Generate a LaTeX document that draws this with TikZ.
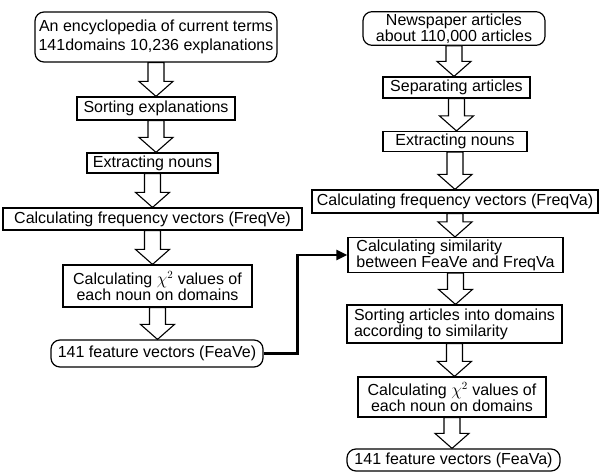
\documentclass[tikz,border=0pt]{standalone}
\usepackage{fontspec}
\setmainfont{Liberation Sans}
\usetikzlibrary{calc,arrows.meta}

\tikzset{
	proc/.style={draw,line width=1.2pt,inner sep=2pt,font=\fontsize{16}{16}\selectfont},
	term/.style={proc,rounded corners=9pt},
	hollow/.style={draw,fill=white,line width=1.1pt,line join=miter},
	link/.style={line width=2.6pt,-{Triangle[length=11pt,width=10pt]}},
}
% hollow block arrow from one box down to the next
\newcommand{\Flow}[2]{%
	\draw[hollow] let \p1=(#1.south), \p2=(#2.north) in
		(\x1-8pt,\y1) -- (\x1+8pt,\y1) -- (\x1+8pt,\y2+15pt) -- (\x1+17pt,\y2+15pt)
		-- (\x1,\y2) -- (\x1-17pt,\y2+15pt) -- (\x1-8pt,\y2+15pt) -- cycle;}

\begin{document}
\begin{tikzpicture}[x=1pt,y=-1pt]
		\useasboundingbox (0,0) rectangle (600,472);
		
		% Set up the boxes (encyclopedia side)
		\node[term,minimum width=242pt,minimum height=50pt,align=center,font=\fontsize{16}{19}\selectfont] (ency) at (156,37) {An encyclopedia of current terms\\141domains 10,236 explanations};
		\node[proc,minimum width=158pt,minimum height=23pt] (sortexp) at (156,108.5) {Sorting explanations};
		\node[proc,minimum width=131pt,minimum height=20pt] (nounsL) at (152.5,163) {Extracting nouns};
		\node[proc,minimum width=299pt,minimum height=22pt] (freqve) at (152.5,219) {Calculating frequency vectors (FreqVe)};
		\node[proc,minimum width=189pt,minimum height=42pt,align=center] (chiL) at (157.5,286) {Calculating $\chi^{2}$ values of\\each noun on domains};
		\node[term,minimum width=212pt,minimum height=27pt] (feave) at (157,353.5) {141 feature vectors (FeaVe)};
		
		% Set up the boxes (newspaper side)
		\node[term,minimum width=182pt,minimum height=33pt,align=center] (news) at (454,28.5) {Newspaper articles\\about 110,000 articles};
		\node[proc,minimum width=147pt,minimum height=21pt] (separate) at (456.5,87.5) {Separating articles};
		\node[proc,minimum width=144pt,minimum height=20pt] (nounsR) at (455,141.5) {Extracting nouns};
		\node[proc,minimum width=286pt,minimum height=23pt] (freqva) at (455,201.5) {Calculating frequency vectors (FreqVa)};
		\node[proc,minimum width=215pt,minimum height=34pt,align=left] (simva) at (455.5,255) {Calculating similarity\\between FeaVe and FreqVa};
		\node[proc,minimum width=215pt,minimum height=38pt,align=left] (sortart) at (454.5,324) {Sorting articles into domains\\according to similarity};
		\node[proc,minimum width=188pt,minimum height=40pt,align=center] (chiR) at (452,397) {Calculating $\chi^{2}$ values of\\each noun on domains};
		\node[term,minimum width=213pt,minimum height=22pt] (feava) at (453.5,460) {141 feature vectors (FeaVa)};
		
		% Add the arrows
		\Flow{ency}{sortexp}
		\Flow{sortexp}{nounsL}
		\Flow{nounsL}{freqve}
		\Flow{freqve}{chiL}
		\Flow{chiL}{feave}
		\Flow{news}{separate}
		\Flow{separate}{nounsR}
		\Flow{nounsR}{freqva}
		\Flow{freqva}{simva}
		\Flow{simva}{sortart}
		\Flow{sortart}{chiR}
		\Flow{chiR}{feava}
		\draw[link] (feave.east) -- ++(34,0) |- (simva.west);
	\end{tikzpicture}
\end{document}
